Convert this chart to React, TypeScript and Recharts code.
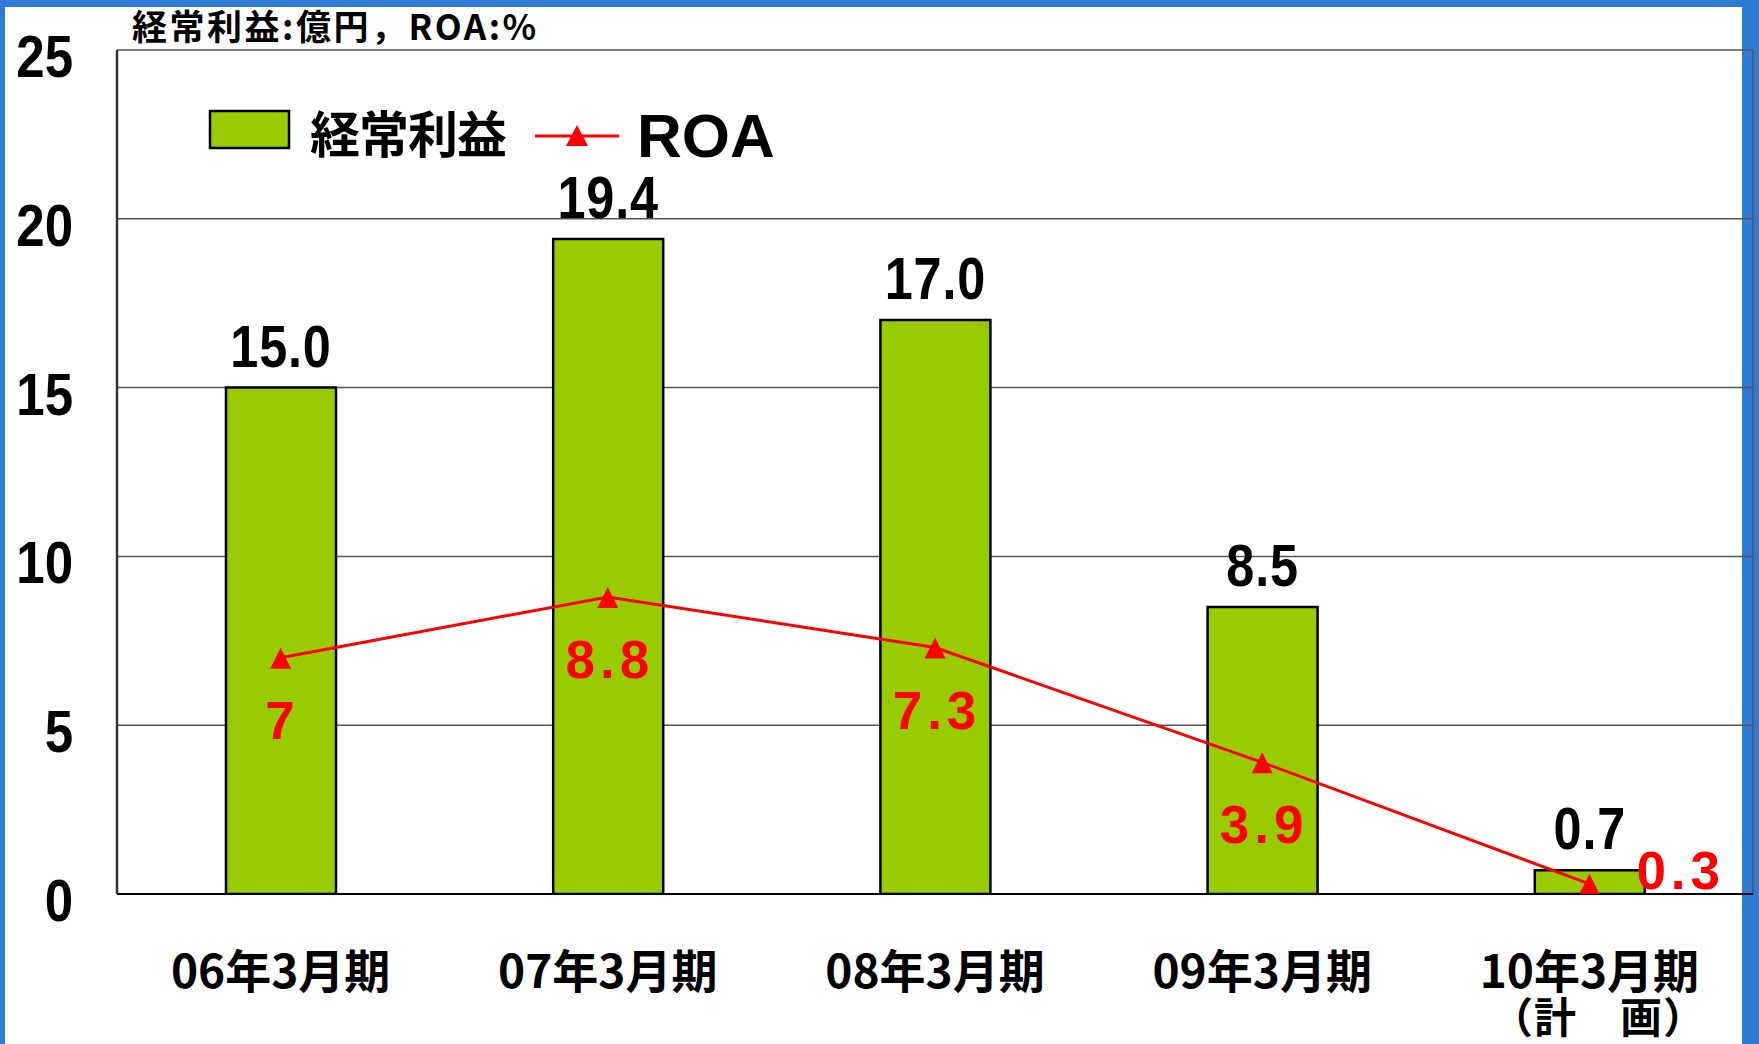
import React from 'react';
import { ComposedChart, Bar, Line, XAxis, YAxis, CartesianGrid, LabelList, Legend } from 'recharts';

const categories = ['06年3月期', '07年3月期', '08年3月期', '09年3月期', '10年3月期'];
const categorySubLabels = ['', '', '', '', '（計　画）'];
const profitValues = [15.0, 19.4, 17.0, 8.5, 0.7];
const roaValues = [7, 8.8, 7.3, 3.9, 0.3];
const yTicks = [0, 5, 10, 15, 20, 25];
const titleText = '経常利益:億円，ROA:%';
const profitName = '経常利益';
const roaName = 'ROA';

const data = categories.map((c, i) => ({
  cat: c,
  sub: categorySubLabels[i],
  profit: profitValues[i],
  roa: roaValues[i],
}));

const W = 1759;
const H = 1044;
const GREEN = '#99CC00';
const RED = '#FF0000';
const LATIN = '"Liberation Sans", Arial, sans-serif';
const CJK = '"Noto Sans CJK JP", "Noto Sans", sans-serif';

const YTick = (props: any) => {
  const { x, y, payload } = props;
  return (
    <text
      x={0}
      y={0}
      transform={`translate(${x},${y + 27}) scale(0.85,1)`}
      textAnchor="end"
      fontSize={60}
      fontWeight="bold"
      fontFamily={LATIN}
      fill="#000"
    >
      {payload.value}
    </text>
  );
};

const XTick = (props: any) => {
  const { x, y, payload, index } = props;
  const sub = categorySubLabels[index ?? payload.index ?? 0];
  return (
    <g>
      <text x={x} y={y + 94} textAnchor="middle" fontSize={46} fontWeight="bold" fontFamily={CJK} fill="#000">
        {payload.value}
      </text>
      {sub ? (
        <text x={x + 9} y={y + 139} textAnchor="middle" fontSize={42} fontWeight="bold" fontFamily={CJK} fill="#000" letterSpacing={1}>
          {sub}
        </text>
      ) : null}
    </g>
  );
};

const BarLabel = (props: any) => {
  const { x, y, width, value } = props;
  const cx = Number(x) + Number(width) / 2;
  return (
    <text
      x={0}
      y={0}
      transform={`translate(${cx},${Number(y) - 21}) scale(0.84,1)`}
      textAnchor="middle"
      fontSize={60}
      fontWeight="bold"
      fontFamily={LATIN}
      fill="#000"
      letterSpacing={1}
    >
      {Number(value).toFixed(1)}
    </text>
  );
};

const RoaLabel = (props: any) => {
  const { x, y, value, index } = props;
  const last = index === roaValues.length - 1;
  if (last) {
    return (
      <text x={Number(x) + 47} y={Number(y) + 5} textAnchor="start" fontSize={53} fontWeight="bold" fontFamily={LATIN} fill={RED} letterSpacing={5}>
        {String(value)}
      </text>
    );
  }
  return (
    <text x={Number(x) + 2} y={Number(y) + 81} textAnchor="middle" fontSize={53} fontWeight="bold" fontFamily={LATIN} fill={RED} letterSpacing={5}>
      {String(value)}
    </text>
  );
};

const TriangleDot = (props: any) => {
  const { cx, cy } = props;
  if (cx == null || cy == null) return null;
  return <polygon points={`${cx},${cy - 10} ${cx + 10.5},${cy + 11} ${cx - 10.5},${cy + 11}`} fill={RED} />;
};

const renderLegend = () => (
  <svg width={620} height={80} style={{ display: 'block' }}>
    <rect x={10} y={21} width={79} height={37} fill={GREEN} stroke="#000" strokeWidth={2.5} />
    <text x={110} y={63} fontSize={50} fontWeight="bold" fontFamily={CJK} fill="#000" letterSpacing={-1}>
      {profitName}
    </text>
    <line x1={335} y1={46} x2={419} y2={46} stroke={RED} strokeWidth={3} />
    <polygon points="377,35 388,56 366,56" fill={RED} />
    <text x={437} y={67} fontSize={62} fontWeight="bold" fontFamily={LATIN} fill="#000">
      {roaName}
    </text>
  </svg>
);

export default function App() {
  return (
    <div style={{ position: 'absolute', left: 0, top: 0, width: W, height: H, background: '#2E7BD6', overflow: 'hidden' }}>
      <div style={{ position: 'absolute', left: 5, top: 7, width: 1737, height: 1037, background: '#fff' }} />
      <div
        style={{
          position: 'absolute',
          left: 132,
          top: 5,
          fontSize: 35,
          lineHeight: '40px',
          fontWeight: 'bold',
          fontFamily: CJK,
          color: '#000',
          whiteSpace: 'nowrap',
          letterSpacing: 2.5,
        }}
      >
        {titleText}
      </div>
      <div style={{ position: 'absolute', left: 0, top: 0 }}>
        <ComposedChart
          width={W}
          height={H}
          data={data}
          margin={{ top: 50, right: 6, left: 0, bottom: 120 }}
          barCategoryGap="33%"
        >
          <CartesianGrid
            vertical={true}
            horizontal={true}
            stroke="#555"
            strokeWidth={1.5}
            verticalCoordinatesGenerator={(p: any) => [p.offset.left, p.offset.left + p.offset.width]}
          />
          <XAxis
            dataKey="cat"
            tick={<XTick />}
            tickLine={false}
            tickSize={0}
            tickMargin={0}
            axisLine={{ stroke: '#000', strokeWidth: 2 }}
            interval={0}
          />
          <YAxis
            domain={[0, 25]}
            ticks={yTicks}
            width={117}
            tick={<YTick />}
            tickLine={false}
            tickSize={0}
            tickMargin={44}
            axisLine={{ stroke: '#333', strokeWidth: 2.5 }}
            allowDataOverflow={true}
          />
          <Legend
            layout="horizontal"
            verticalAlign="middle"
            align="center"
            content={renderLegend}
            wrapperStyle={{ position: 'absolute', left: 200, top: 90, width: 620, height: 80 }}
          />
          <Bar
            dataKey="profit"
            name={profitName}
            fill={GREEN}
            stroke="#000"
            strokeWidth={2.5}
            barSize={110}
            isAnimationActive={false}
          >
            <LabelList dataKey="profit" content={<BarLabel />} />
          </Bar>
          <Line
            dataKey="roa"
            name={roaName}
            stroke={RED}
            strokeWidth={3}
            dot={<TriangleDot />}
            activeDot={false}
            isAnimationActive={false}
          >
            <LabelList dataKey="roa" content={<RoaLabel />} />
          </Line>
        </ComposedChart>
      </div>
    </div>
  );
}
